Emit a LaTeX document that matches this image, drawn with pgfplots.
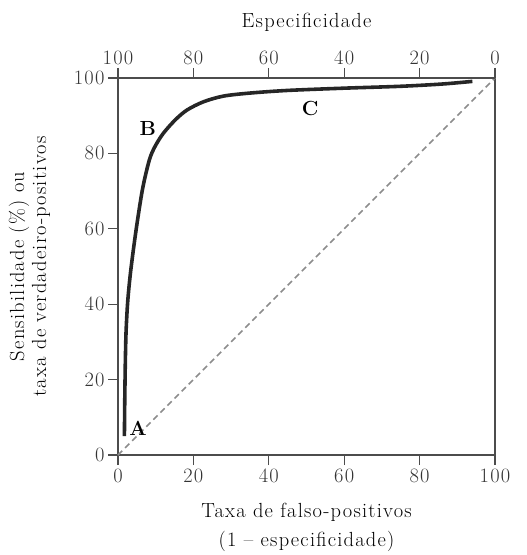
\documentclass[border=0pt]{standalone}
\usepackage{fontspec}
\setmainfont{Latin Modern Roman}[LetterSpace=6]
\usepackage{pgfplots}
\pgfplotsset{compat=1.18}
\definecolor{axisgray}{gray}{0.3}
\definecolor{dashgray}{gray}{0.55}
\newcommand{\bigfont}{\fontsize{20.5}{24}\selectfont}
\begin{document}
\begin{tikzpicture}[x=1bp,y=1bp]
\useasboundingbox (-118,-100) rectangle (409,455);
\pgfplotsset{
  rocbase/.style={
    scale only axis, width=377bp, height=377bp,
    xmin=0, xmax=100, ymin=0, ymax=100,
    at={(0,0)}, anchor=south west,
    font=\bigfont,
    tick label style={font=\bigfont, text=black!80},
    /pgf/number format/assume math mode=true,
    tick align=outside, major tick length=10bp,
    axis line style={axisgray, line width=1.1pt},
    every tick/.style={axisgray, line width=1.1pt},
  }
}
% Main ROC axis
\begin{axis}[rocbase,
    xtick={0,20,...,100}, ytick={0,20,...,100},
    xtick pos=bottom, ytick pos=left,
    xlabel={Taxa de falso-positivos\\(1 -- especificidade)},
    xlabel style={align=center, font=\fontsize{20.5}{29}\selectfont, yshift=-14bp},
    ylabel={Sensibilidade (\%) ou\\taxa de verdadeiro-positivos},
    ylabel style={align=center, font=\fontsize{20.5}{22}\selectfont, yshift=17bp},
    clip=false]
  % chance line
  \addplot[dashgray, line width=1.6pt, dash pattern=on 6bp off 4bp] coordinates {(0,0) (100,100)};
  % ROC curve
  \addplot[black!85, line width=3.6pt, smooth, tension=0.5] coordinates {
    (1.7,5) (1.8,15) (1.95,25) (2.15,33) (2.6,41) (3.4,49.1) (4.8,59.7)
    (6.5,70.5) (8.3,78.2) (9.8,81.8) (12,85.3) (15.2,88.9) (18.3,91.5)
    (22.7,93.7) (28,95.2) (35,96) (45,96.7) (60,97.3) (75,97.8) (86,98.4) (94,99.1)
  };
  \node[font=\bigfont\bfseries] at (axis cs:5.3,7.2) {A};
  \node[font=\bigfont\bfseries] at (axis cs:7.9,86.7) {B};
  \node[font=\bigfont\bfseries] at (axis cs:51,92) {C};
\end{axis}
% Specificity scale along the top
\begin{axis}[rocbase,
    x dir=reverse,
    axis x line*=top, hide y axis,
    xtick={0,20,...,100},
    xlabel={Especificidade},
    xlabel style={yshift=12bp}]
\end{axis}
\end{tikzpicture}
\end{document}
